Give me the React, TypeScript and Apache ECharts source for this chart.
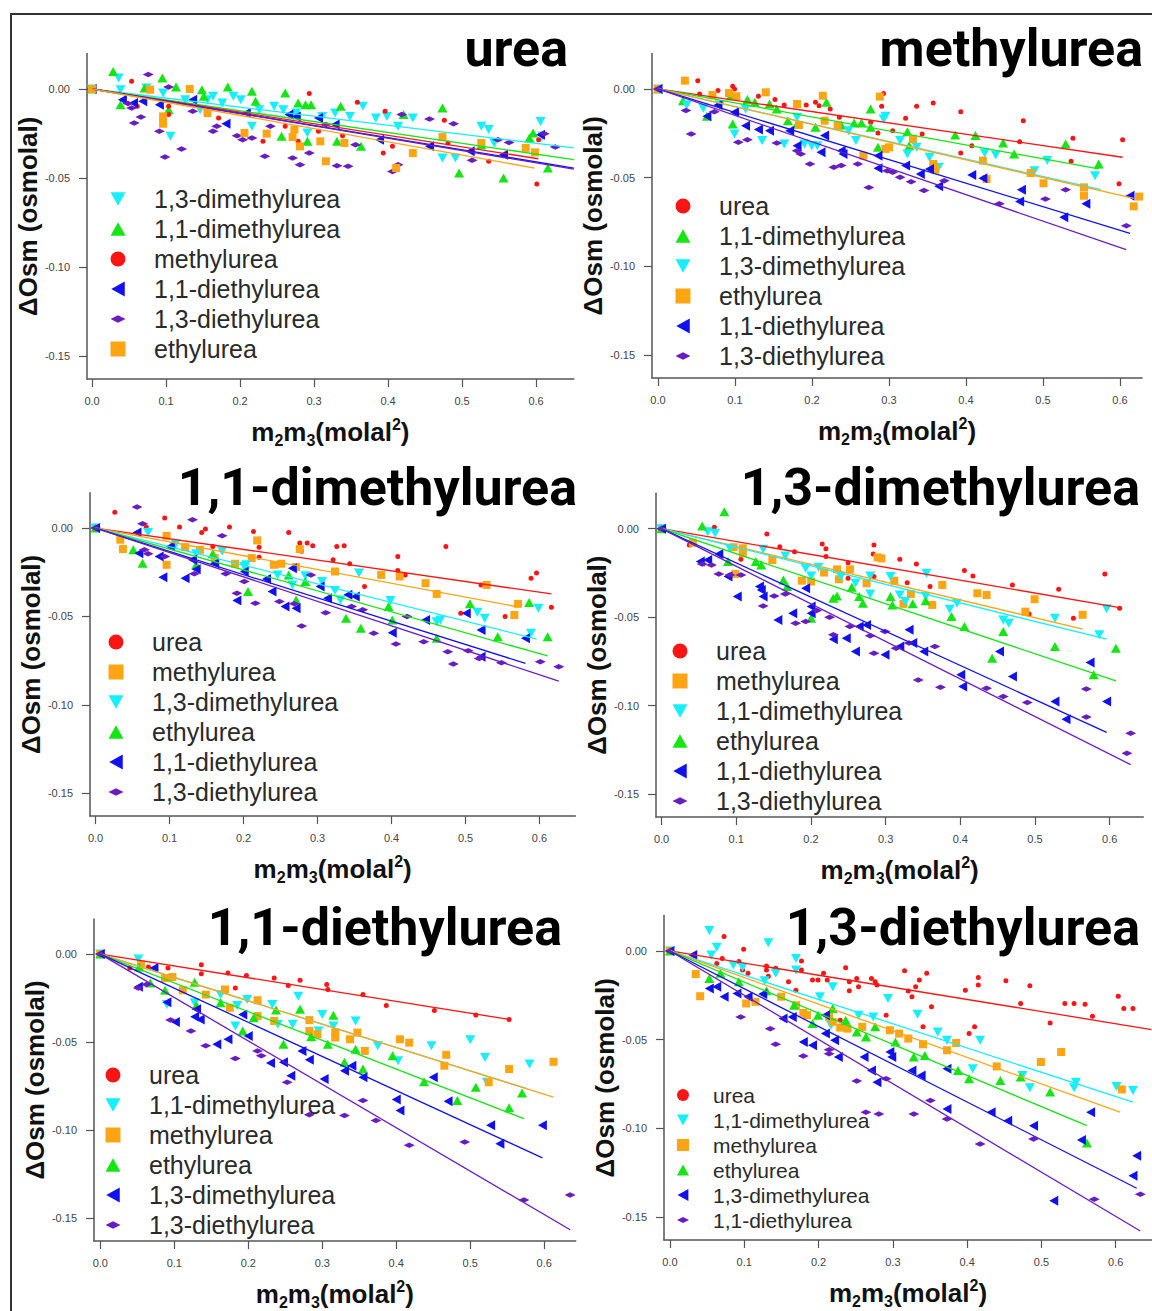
import React, { useEffect, useRef } from 'react';
import * as echarts from 'echarts';

// ---------------- data ----------------
const TITLES = ['urea', 'methylurea', '1,1-dimethylurea', '1,3-dimethylurea', '1,1-diethylurea', '1,3-diethylurea'];
const X_TICKS = [0, 0.1, 0.2, 0.3, 0.4, 0.5, 0.6];
const Y_TICKS = [0, -0.05, -0.1, -0.15];

// panel 1: urea
const P1_NAMES = ['1,3-dimethylurea', '1,1-dimethylurea', 'methylurea', '1,1-diethylurea', '1,3-diethylurea', 'ethylurea'];
const P1_A = [[0,0],[0.036,0.0062],[0.0385,-0.0004],[0.0735,0.0006],[0.096,-0.0022],[0.106,-0.0266],[0.126,-0.006],[0.146,-0.0116],[0.156,-0.006],[0.1635,-0.0041],[0.176,-0.0079],[0.191,-0.0041],[0.201,-0.006],[0.216,-0.021],[0.226,-0.0116],[0.246,-0.0097],[0.2585,-0.0116],[0.276,-0.0135],[0.291,-0.0247],[0.311,-0.0154],[0.3285,-0.0135],[0.3485,-0.0154],[0.366,-0.0097],[0.3835,-0.0163],[0.3985,-0.0154],[0.4135,-0.021],[0.4335,-0.0163],[0.4735,-0.0388],[0.491,-0.0388],[0.526,-0.021],[0.536,-0.0228],[0.5435,-0.0303],[0.606,-0.0182],[0.6085,-0.0266]];
const P1_B = [[0,0],[0.0285,0.0099],[0.0385,-0.0088],[0.071,0.0006],[0.095,0.0062],[0.1135,0.0011],[0.1035,-0.0116],[0.1485,-0.0004],[0.151,-0.0041],[0.1835,0.0011],[0.216,-0.0013],[0.221,-0.0069],[0.261,-0.0022],[0.256,-0.0266],[0.2785,-0.0079],[0.2885,-0.0088],[0.296,-0.0088],[0.291,-0.0294],[0.331,-0.0294],[0.336,-0.0097],[0.3635,-0.0322],[0.421,-0.0144],[0.4735,-0.0107],[0.496,-0.0472],[0.526,-0.0313],[0.556,-0.05],[0.591,-0.0275],[0.596,-0.0247],[0.616,-0.0444]];
const P1_C = [[0,0],[0.0535,0.0043],[0.061,-0.0097],[0.1035,-0.0097],[0.1035,-0.0144],[0.171,-0.0163],[0.231,-0.0294],[0.261,-0.021],[0.2785,-0.0294],[0.2935,-0.0026],[0.306,-0.0238],[0.3385,-0.0262],[0.3585,-0.0075],[0.396,-0.0125],[0.3935,-0.036],[0.406,-0.0322],[0.476,-0.0176],[0.481,-0.0303],[0.536,-0.0406],[0.601,-0.0534],[0.6035,-0.0285]];
const P1_D = [[0,0],[0.041,-0.006],[0.056,-0.0079],[0.0685,-0.0069],[0.091,-0.0088],[0.136,-0.006],[0.181,-0.0195],[0.2085,-0.0135],[0.266,-0.0144],[0.276,-0.0154],[0.306,-0.0163],[0.3285,-0.02],[0.3885,-0.0285],[0.456,-0.0322],[0.511,-0.035],[0.556,-0.0369],[0.606,-0.0257]];
const P1_E = [[0,0],[0.0485,-0.0082],[0.0535,-0.0107],[0.057,-0.0191],[0.066,-0.0157],[0.076,0.0081],[0.091,-0.0238],[0.0985,-0.0382],[0.1035,0.0011],[0.121,-0.0337],[0.136,-0.0125],[0.1635,-0.0238],[0.1685,-0.021],[0.196,-0.0262],[0.2035,-0.0285],[0.216,-0.0275],[0.2335,-0.0378],[0.241,-0.021],[0.271,-0.0388],[0.281,-0.0425],[0.2935,-0.036],[0.316,-0.02],[0.331,-0.0431],[0.346,-0.0434],[0.356,-0.0313],[0.406,-0.0463],[0.4135,-0.0425],[0.4185,-0.0144],[0.456,-0.0169],[0.4885,-0.0195],[0.5135,-0.0401],[0.5485,-0.0285],[0.5635,-0.03],[0.611,-0.0251],[0.626,-0.0326]];
const P1_F = [[0,0],[0.0785,-0.0004],[0.096,-0.0195],[0.096,-0.0154],[0.132,0],[0.156,-0.0135],[0.206,-0.0247],[0.236,-0.0251],[0.271,-0.027],[0.2735,-0.0228],[0.281,-0.0322],[0.3085,-0.0294],[0.316,-0.0406],[0.341,-0.0303],[0.411,-0.0444],[0.4335,-0.036],[0.4735,-0.027],[0.526,-0.0303],[0.586,-0.0331],[0.5985,-0.0356]];
const P1_FIT = [[0.651,-0.0331],[0.651,-0.0397],[0.603,-0.0392],[0.651,-0.0444],[0.651,-0.045],[0.598,-0.0444]];

// panel 2: methylurea
const P2_NAMES = ['urea', '1,1-dimethylurea', '1,3-dimethylurea', 'ethylurea', '1,1-diethylurea', '1,3-diethylurea'];
const P2_A = [[0,0],[0.0516,0.0047],[0.054,-0.0028],[0.0779,-0.0009],[0.097,0.0015],[0.0994,0],[0.1304,-0.0041],[0.1519,-0.006],[0.1639,-0.009],[0.1925,-0.009],[0.2045,-0.0075],[0.2092,-0.0094],[0.2236,-0.0113],[0.2355,-0.016],[0.2762,-0.0188],[0.2857,-0.0248],[0.2905,-0.0098],[0.2929,-0.0026],[0.3048,-0.0235],[0.3216,-0.0165],[0.3359,-0.0098],[0.343,-0.0254],[0.3574,-0.0079],[0.3932,-0.0128],[0.3932,-0.0361],[0.4075,-0.032],[0.4697,-0.0297],[0.4744,-0.0179],[0.5365,-0.0408],[0.5389,-0.0278],[0.5987,-0.0534],[0.6034,-0.0286]];
const P2_B = [[0,0],[0.0325,-0.0066],[0.0635,-0.0154],[0.0946,-0.0038],[0.097,-0.0197],[0.1161,-0.006],[0.1257,-0.0075],[0.1448,-0.0085],[0.1543,-0.0113],[0.1687,-0.0179],[0.1806,-0.0197],[0.2045,-0.0216],[0.2188,-0.0075],[0.2379,-0.0203],[0.2547,-0.0192],[0.2642,-0.0192],[0.2762,-0.0113],[0.2762,-0.0216],[0.2857,-0.0329],[0.3239,-0.0241],[0.3263,-0.032],[0.386,-0.0259],[0.4123,-0.0263],[0.4482,-0.0305],[0.4625,-0.0367],[0.5294,-0.031],[0.5724,-0.0423]];
const P2_C = [[0,0],[0.0373,-0.009],[0.0588,-0.0109],[0.0803,-0.009],[0.0994,-0.0254],[0.1137,-0.0113],[0.1352,-0.0291],[0.1639,-0.031],[0.1806,-0.016],[0.1902,-0.031],[0.1997,-0.032],[0.2069,-0.032],[0.2475,-0.0235],[0.257,-0.0291],[0.2953,-0.0154],[0.2929,-0.0169],[0.3144,-0.0291],[0.3239,-0.0367],[0.3359,-0.0329],[0.3526,-0.0385],[0.3645,-0.0442],[0.4243,-0.0361],[0.4386,-0.0372],[0.4888,-0.0461],[0.5055,-0.0404],[0.5676,-0.0489]];
const P2_D = [[0,0],[0.0349,0.0047],[0.0707,-0.0034],[0.0922,-0.0023],[0.1018,-0.0041],[0.14,-0.0019],[0.1806,-0.0085],[0.183,-0.0203],[0.214,-0.0038],[0.2164,-0.0179],[0.2332,-0.0207],[0.2666,-0.0376],[0.2881,-0.0043],[0.2953,-0.0338],[0.3,-0.0329],[0.3311,-0.0282],[0.3574,-0.0423],[0.3598,-0.0455],[0.4219,-0.0404],[0.4267,-0.0508],[0.484,-0.0474],[0.5007,-0.0532],[0.5533,-0.0555],[0.5533,-0.0602],[0.6178,-0.0662],[0.6249,-0.0607]];
const P2_E = [[0,0],[0.0635,-0.0154],[0.0779,-0.009],[0.0994,-0.0132],[0.1137,-0.0207],[0.1304,-0.0229],[0.1448,-0.0235],[0.171,-0.0235],[0.1806,-0.032],[0.2117,-0.0357],[0.2164,-0.0263],[0.2379,-0.0348],[0.2403,-0.0367],[0.2857,-0.0376],[0.2857,-0.0447],[0.3216,-0.0432],[0.3407,-0.0479],[0.3526,-0.0451],[0.3645,-0.0549],[0.4075,-0.0485],[0.4219,-0.0504],[0.472,-0.0568],[0.4697,-0.0635],[0.527,-0.0724],[0.5557,-0.0648],[0.613,-0.0602]];
const P2_F = [[0,0],[0.0363,-0.0122],[0.043,-0.0254],[0.0731,-0.0128],[0.1042,-0.0301],[0.1161,-0.0286],[0.1543,-0.0305],[0.1806,-0.0348],[0.1854,-0.0367],[0.1973,-0.0423],[0.2284,-0.0442],[0.2379,-0.0432],[0.2594,-0.0423],[0.2738,-0.0555],[0.2977,-0.0461],[0.3048,-0.047],[0.3144,-0.0498],[0.3287,-0.0523],[0.3454,-0.0573],[0.3717,-0.0517],[0.4434,-0.0648],[0.5031,-0.062],[0.5294,-0.0568],[0.6082,-0.0771]];
const P2_FIT = [[0.6034,-0.0385],[0.5724,-0.0451],[0.575,-0.0568],[0.618,-0.0617],[0.613,-0.0814],[0.608,-0.0906]];

// panel 3: 1,1-dimethylurea
const P3_NAMES = ['urea', 'methylurea', '1,3-dimethylurea', 'ethylurea', '1,1-diethylurea', '1,3-diethylurea'];
const P3_A = [[0,0],[0.026,0.0089],[0.0685,0.0006],[0.0935,0.0057],[0.1135,0.0006],[0.1435,-0.0025],[0.1485,-0.0006],[0.1585,-0.0104],[0.181,0.0006],[0.2135,-0.0019],[0.221,-0.0108],[0.221,-0.0165],[0.261,-0.0025],[0.276,-0.0085],[0.2785,-0.0132],[0.286,-0.0085],[0.2935,-0.01],[0.321,-0.018],[0.326,-0.0104],[0.336,-0.01],[0.3435,-0.0202],[0.3635,-0.0331],[0.4085,-0.024],[0.4085,-0.0161],[0.4185,-0.0265],[0.4735,-0.0104],[0.4935,-0.0482],[0.521,-0.0322],[0.5535,-0.0501],[0.5885,-0.0284],[0.596,-0.0255],[0.616,-0.0448]];
const P3_B = [[0,0],[0.0335,-0.0066],[0.037,-0.0119],[0.096,-0.0044],[0.096,-0.0208],[0.121,-0.0108],[0.141,-0.0123],[0.161,-0.017],[0.1885,-0.0202],[0.211,-0.017],[0.2185,-0.007],[0.241,-0.0208],[0.251,-0.0202],[0.271,-0.0221],[0.276,-0.0119],[0.3235,-0.0246],[0.386,-0.0265],[0.411,-0.0274],[0.446,-0.0312],[0.461,-0.0373],[0.5285,-0.0322],[0.566,-0.0492],[0.571,-0.0429]];
const P3_C = [[0,0],[0.071,-0.0025],[0.1085,-0.0089],[0.136,-0.0146],[0.171,-0.0132],[0.201,-0.0218],[0.2035,-0.0208],[0.246,-0.0265],[0.266,-0.0322],[0.2835,-0.027],[0.306,-0.0303],[0.3235,-0.0354],[0.331,-0.0407],[0.356,-0.0255],[0.3985,-0.041],[0.461,-0.053],[0.466,-0.052],[0.526,-0.0511],[0.516,-0.0477],[0.5885,-0.0596],[0.5985,-0.0454]];
const P3_D = [[0,0],[0.051,-0.0123],[0.0635,-0.0199],[0.1035,-0.0095],[0.136,-0.0208],[0.1585,-0.0146],[0.206,-0.0359],[0.261,-0.0265],[0.271,-0.0407],[0.2835,-0.0303],[0.3385,-0.0511],[0.3585,-0.0567],[0.396,-0.0444],[0.401,-0.052],[0.461,-0.0624],[0.506,-0.0429],[0.5435,-0.0615],[0.586,-0.0422],[0.611,-0.0615]];
const P3_E = [[0,0],[0.056,-0.0025],[0.0585,-0.0142],[0.086,-0.0161],[0.091,-0.0278],[0.101,-0.0104],[0.121,-0.0284],[0.131,-0.018],[0.136,-0.0233],[0.161,-0.0199],[0.191,-0.041],[0.201,-0.0246],[0.231,-0.0289],[0.2385,-0.0359],[0.256,-0.0444],[0.271,-0.0454],[0.266,-0.0227],[0.3035,-0.0331],[0.3135,-0.0397],[0.341,-0.0378],[0.351,-0.0388],[0.401,-0.0592],[0.446,-0.052],[0.501,-0.0482],[0.521,-0.0577],[0.521,-0.0728],[0.581,-0.0624]];
const P3_F = [[0,0],[0.056,0.0119],[0.0635,0.0025],[0.066,-0.0123],[0.071,-0.0146],[0.0935,-0.0161],[0.131,0.0047],[0.1335,-0.0259],[0.171,-0.0044],[0.176,-0.0259],[0.191,-0.0369],[0.201,-0.0303],[0.216,-0.0426],[0.2485,-0.0416],[0.2685,-0.0429],[0.2785,-0.0554],[0.291,-0.0265],[0.311,-0.0479],[0.346,-0.0444],[0.361,-0.0463],[0.376,-0.0596],[0.406,-0.0656],[0.421,-0.0501],[0.4435,-0.0643],[0.476,-0.07],[0.4835,-0.077],[0.5035,-0.0694],[0.5185,-0.0738],[0.5485,-0.0762],[0.601,-0.0757],[0.626,-0.0785]];
const P3_FIT = [[0.616,-0.0373],[0.5685,-0.0444],[0.596,-0.0628],[0.611,-0.0724],[0.581,-0.0766],[0.626,-0.0866]];

// panel 4: 1,3-dimethylurea
const P4_NAMES = ['urea', 'methylurea', '1,1-dimethylurea', 'ethylurea', '1,1-diethylurea', '1,3-diethylurea'];
const P4_A = [[0,0],[0.0371,-0.0092],[0.0707,0.0008],[0.1063,-0.0173],[0.141,-0.003],[0.1583,-0.0102],[0.178,-0.013],[0.2151,-0.0087],[0.2201,-0.0113],[0.2201,-0.0158],[0.2498,-0.0192],[0.2498,-0.028],[0.2844,-0.0092],[0.2834,-0.0143],[0.2844,-0.0271],[0.319,-0.0173],[0.3412,-0.02],[0.3289,-0.0305],[0.3595,-0.0327],[0.4055,-0.0237],[0.4169,-0.0267],[0.4698,-0.0318],[0.4921,-0.0482],[0.5317,-0.0343],[0.5514,-0.0506],[0.5935,-0.0256],[0.6133,-0.045]];
const P4_B = [[0,0],[0.042,-0.0079],[0.0964,-0.0105],[0.0989,-0.0256],[0.1088,-0.0111],[0.1088,-0.0139],[0.1484,-0.0177],[0.1879,-0.0294],[0.2003,-0.0299],[0.2176,-0.0248],[0.2349,-0.023],[0.2374,-0.0286],[0.2522,-0.023],[0.2745,-0.0309],[0.2893,-0.0162],[0.2943,-0.0168],[0.3116,-0.0294],[0.3239,-0.0425],[0.3338,-0.0369],[0.3625,-0.0431],[0.3759,-0.0318],[0.4228,-0.0365],[0.4352,-0.0375],[0.4995,-0.0399],[0.4871,-0.0469],[0.5638,-0.0487]];
const P4_C = [[0,0],[0.0618,-0.0017],[0.0717,-0.0026],[0.0915,-0.0111],[0.136,-0.0117],[0.1657,-0.0154],[0.1929,-0.0224],[0.2003,-0.0267],[0.2102,-0.0218],[0.2399,-0.0271],[0.2596,-0.0309],[0.2794,-0.0267],[0.2794,-0.0369],[0.3066,-0.0271],[0.319,-0.0375],[0.3264,-0.0412],[0.3536,-0.0384],[0.3546,-0.0252],[0.3956,-0.0422],[0.3858,-0.0455],[0.4575,-0.0516],[0.4649,-0.0535],[0.5267,-0.0506],[0.5861,-0.06],[0.5959,-0.0452]];
const P4_D = [[0,0],[0.0544,0.0015],[0.0841,0.0096],[0.089,-0.0186],[0.1261,-0.0186],[0.1335,-0.0205],[0.1632,-0.029],[0.1682,-0.0327],[0.2003,-0.0506],[0.23,-0.0393],[0.2349,-0.038],[0.2547,-0.0331],[0.2646,-0.0384],[0.2695,-0.0422],[0.3066,-0.0384],[0.3091,-0.0431],[0.3363,-0.0425],[0.3536,-0.0407],[0.3882,-0.0497],[0.4055,-0.0553],[0.4426,-0.0732],[0.4575,-0.0582],[0.5267,-0.0666],[0.5786,-0.0826],[0.6083,-0.0676]];
const P4_E = [[0,0],[0.0519,-0.0186],[0.0618,-0.0177],[0.0767,-0.0143],[0.089,-0.0271],[0.1014,-0.0384],[0.1311,-0.0327],[0.1335,-0.0346],[0.136,-0.0384],[0.1558,-0.0516],[0.1756,-0.0478],[0.1929,-0.0337],[0.2003,-0.044],[0.2003,-0.0478],[0.23,-0.0625],[0.2473,-0.0619],[0.2596,-0.0695],[0.2646,-0.0553],[0.2745,-0.0544],[0.2992,-0.0713],[0.319,-0.0666],[0.3314,-0.0572],[0.3363,-0.0647],[0.3511,-0.0695],[0.4006,-0.0826],[0.4031,-0.0892],[0.4525,-0.0695],[0.4698,-0.0836],[0.5267,-0.0977],[0.5415,-0.1077],[0.5737,-0.0757],[0.5959,-0.0977]];
const P4_F = [[0,0],[0.0544,-0.02],[0.0668,-0.0205],[0.0767,-0.0256],[0.0915,-0.0262],[0.1063,-0.0262],[0.136,-0.0437],[0.1508,-0.038],[0.1657,-0.0369],[0.1795,-0.0535],[0.1929,-0.0525],[0.2077,-0.0463],[0.225,-0.0501],[0.23,-0.06],[0.2522,-0.0553],[0.2794,-0.0606],[0.2844,-0.0704],[0.2992,-0.0582],[0.314,-0.0676],[0.3314,-0.0647],[0.3437,-0.0855],[0.366,-0.0666],[0.3734,-0.0896],[0.4352,-0.0902],[0.4575,-0.0949],[0.4896,-0.0982],[0.5687,-0.1065],[0.5687,-0.0907],[0.6231,-0.1269],[0.6281,-0.1156]];
const P4_FIT = [[0.6133,-0.0446],[0.5638,-0.0568],[0.5959,-0.0625],[0.6083,-0.086],[0.5959,-0.1152],[0.6281,-0.1334]];

// panel 5: 1,1-diethylurea
const P5_NAMES = ['urea', '1,1-dimethylurea', 'methylurea', 'ethylurea', '1,3-dimethylurea', '1,3-diethylurea'];
const P5_A = [[0,0],[0.04,-0.0079],[0.065,-0.0073],[0.0915,-0.0079],[0.1365,-0.006],[0.1365,-0.0111],[0.1725,-0.0107],[0.1825,-0.0192],[0.1975,-0.0122],[0.235,-0.0136],[0.254,-0.0179],[0.27,-0.0149],[0.306,-0.0173],[0.3075,-0.0201],[0.355,-0.023],[0.3865,-0.0292],[0.4515,-0.032],[0.5075,-0.0346],[0.5525,-0.0371]];
const P5_B = [[0,0],[0.0515,-0.0028],[0.09,-0.0286],[0.1275,-0.0277],[0.1625,-0.023],[0.1825,-0.0408],[0.185,-0.0292],[0.1985,-0.0258],[0.2325,-0.0286],[0.24,-0.0399],[0.26,-0.0399],[0.2675,-0.0239],[0.295,-0.0437],[0.3,-0.0343],[0.315,-0.0408],[0.345,-0.038],[0.375,-0.0521],[0.4025,-0.0606],[0.4475,-0.0521],[0.5,-0.0487],[0.52,-0.0587],[0.5225,-0.0728],[0.58,-0.0625]];
const P5_C = [[0,0],[0.055,-0.006],[0.0875,-0.0136],[0.0975,-0.013],[0.1115,-0.0205],[0.1425,-0.023],[0.1685,-0.0201],[0.175,-0.0305],[0.2125,-0.0262],[0.2125,-0.0352],[0.235,-0.038],[0.2825,-0.0375],[0.2825,-0.0437],[0.2935,-0.0455],[0.3175,-0.0446],[0.3175,-0.0474],[0.3375,-0.0484],[0.3475,-0.0446],[0.3575,-0.055],[0.405,-0.0484],[0.4175,-0.0503],[0.4675,-0.0572],[0.465,-0.0634],[0.525,-0.0728],[0.5525,-0.0653],[0.6125,-0.0612]];
const P5_D = [[0,0],[0.0525,-0.0073],[0.0675,-0.0164],[0.0875,-0.0205],[0.1275,-0.016],[0.13,-0.0292],[0.1625,-0.0277],[0.1925,-0.0437],[0.2075,-0.0361],[0.2375,-0.0318],[0.2475,-0.0512],[0.27,-0.0314],[0.285,-0.0469],[0.315,-0.0348],[0.3075,-0.0512],[0.33,-0.0615],[0.345,-0.054],[0.355,-0.0653],[0.395,-0.0578],[0.4375,-0.0725],[0.4825,-0.0832],[0.5075,-0.0757],[0.5525,-0.0873],[0.57,-0.0789]];
const P5_E = [[0,0],[0.0515,-0.0186],[0.0725,-0.0079],[0.09,-0.0273],[0.1015,-0.0386],[0.1275,-0.0356],[0.13,-0.0314],[0.135,-0.0371],[0.1575,-0.0512],[0.1725,-0.0484],[0.1925,-0.0343],[0.2,-0.0465],[0.23,-0.0619],[0.2475,-0.0615],[0.2575,-0.0691],[0.2725,-0.055],[0.2825,-0.06],[0.3025,-0.071],[0.33,-0.0663],[0.34,-0.0634],[0.355,-0.07],[0.4,-0.0826],[0.405,-0.0888],[0.45,-0.07],[0.47,-0.0836],[0.5275,-0.0973],[0.54,-0.1077],[0.5975,-0.0973]];
const P5_F = [[0,0],[0.0515,-0.0192],[0.0625,-0.0173],[0.095,-0.0375],[0.1225,-0.0437],[0.1425,-0.0521],[0.1825,-0.0593],[0.2125,-0.055],[0.2175,-0.0578],[0.2525,-0.0728],[0.2825,-0.0913],[0.33,-0.0917],[0.355,-0.0832],[0.3725,-0.0945],[0.4175,-0.1086],[0.4925,-0.1067],[0.5725,-0.1397],[0.635,-0.1368]];
const P5_FIT = [[0.5525,-0.0371],[0.5775,-0.0766],[0.6125,-0.0813],[0.5725,-0.0935],[0.5975,-0.1158],[0.635,-0.1566]];

// panel 6: 1,3-diethylurea
const P6_NAMES = ['urea', '1,1-dimethylurea', 'methylurea', 'ethylurea', '1,3-dimethylurea', '1,1-diethylurea'];
const P6_A = [[0,0],[0.0729,0.0081],[0.0704,-0.0042],[0.063,-0.007],[0.0927,-0.006],[0.0992,0.0009],[0.0977,-0.0108],[0.1051,-0.0126],[0.1299,-0.0085],[0.1299,-0.0108],[0.1324,-0.0142],[0.1423,-0.0098],[0.1596,-0.0174],[0.1696,-0.0221],[0.177,-0.0057],[0.177,-0.0108],[0.1919,-0.0164],[0.1993,-0.0164],[0.2067,-0.0126],[0.2117,-0.0164],[0.2291,-0.0391],[0.2365,-0.0094],[0.2414,-0.0174],[0.2414,-0.0225],[0.2514,-0.0155],[0.2538,-0.0202],[0.2712,-0.0155],[0.2762,-0.0174],[0.2786,-0.0192],[0.291,-0.0362],[0.3158,-0.0111],[0.3208,-0.0226],[0.3257,-0.0258],[0.3307,-0.0202],[0.3356,-0.0164],[0.3406,-0.0428],[0.3456,-0.0126],[0.352,-0.0315],[0.3976,-0.0221],[0.4026,-0.0466],[0.41,-0.0428],[0.415,-0.0149],[0.415,-0.0192],[0.4522,-0.0168],[0.472,-0.0296],[0.4844,-0.0196],[0.5117,-0.0406],[0.5315,-0.0296],[0.5439,-0.0296],[0.5587,-0.03],[0.5687,-0.0368],[0.6034,-0.0255],[0.6108,-0.0325],[0.6232,-0.0325]];
const P6_B = [[0,0],[0.053,0.0115],[0.0555,-0.0023],[0.063,0.0021],[0.0853,-0.0079],[0.0977,-0.0092],[0.1324,0.0047],[0.1274,-0.0168],[0.1423,-0.0126],[0.1696,-0.0042],[0.1696,-0.0108],[0.2018,-0.0258],[0.2167,-0.0419],[0.2191,-0.0202],[0.2538,-0.0362],[0.2737,-0.0372],[0.2935,-0.0268],[0.3332,-0.0357],[0.3604,-0.0457],[0.3728,-0.0504],[0.4175,-0.0504],[0.4075,-0.0664],[0.4745,-0.0702],[0.4844,-0.0772],[0.5464,-0.074],[0.5439,-0.0772],[0.6009,-0.0764],[0.6232,-0.0787]];
const P6_C = [[0,0],[0.0347,-0.013],[0.0407,-0.0255],[0.1026,-0.0296],[0.115,-0.0287],[0.1497,-0.0258],[0.1696,-0.0306],[0.1795,-0.0349],[0.1844,-0.0362],[0.2142,-0.0372],[0.2191,-0.04],[0.2291,-0.0432],[0.239,-0.0438],[0.2588,-0.0428],[0.296,-0.0447],[0.3084,-0.0466],[0.3208,-0.0494],[0.3406,-0.0526],[0.3852,-0.0519],[0.3728,-0.056],[0.4398,-0.0651],[0.4993,-0.0626],[0.5265,-0.057],[0.6083,-0.0781]];
const P6_D = [[0,0],[0.053,-0.0155],[0.0679,-0.0126],[0.0927,-0.0174],[0.1299,-0.0225],[0.1671,-0.0306],[0.1919,-0.0409],[0.1993,-0.0362],[0.2191,-0.0325],[0.2365,-0.0391],[0.2514,-0.0457],[0.2638,-0.0485],[0.2762,-0.0428],[0.3034,-0.0513],[0.3282,-0.0598],[0.3431,-0.0589],[0.3877,-0.0674],[0.4026,-0.0721],[0.4447,-0.073],[0.472,-0.0711],[0.5117,-0.0796],[0.5612,-0.1083]];
const P6_E = [[0,0],[0.0307,-0.0023],[0.053,-0.0211],[0.063,-0.0202],[0.0729,-0.0258],[0.0902,-0.024],[0.1051,-0.0258],[0.1249,-0.0243],[0.1522,-0.0381],[0.1646,-0.0372],[0.1795,-0.0513],[0.1919,-0.0532],[0.2092,-0.0362],[0.2092,-0.0466],[0.2216,-0.0504],[0.2266,-0.0598],[0.2613,-0.0598],[0.2712,-0.0674],[0.2786,-0.074],[0.296,-0.057],[0.2985,-0.0598],[0.3257,-0.0674],[0.3381,-0.0702],[0.3728,-0.0664],[0.3728,-0.0891],[0.4323,-0.0909],[0.4546,-0.0957],[0.4893,-0.0985],[0.5166,-0.1409],[0.5538,-0.1066],[0.5662,-0.0909],[0.6282,-0.1155],[0.6232,-0.1268]];
const P6_F = [[0,0],[0.0952,-0.0372],[0.1349,-0.0438],[0.1423,-0.0526],[0.1795,-0.0592],[0.2142,-0.0557],[0.2142,-0.0579],[0.2514,-0.0734],[0.2638,-0.0909],[0.2811,-0.0919],[0.291,-0.0721],[0.3282,-0.0919],[0.3505,-0.0843],[0.3728,-0.0947],[0.4175,-0.1089],[0.4893,-0.106],[0.5711,-0.14],[0.6331,-0.1372]];
const P6_FIT = [[0.648,-0.0443],[0.6232,-0.0853],[0.6059,-0.0909],[0.5612,-0.0985],[0.6282,-0.1338],[0.6331,-0.1579]];

// ---------------- styles & layout ----------------
const COLORS: Record<string, string> = {
  red: '#ff1414', green: '#14e614', cyan: '#14f0ff', orange: '#ffa514', blue: '#1010f0', purple: '#6a1cc4',
};
const SYM: Record<string, string> = {
  circle: 'path://M0,5a5,5 0 1,0 10,0a5,5 0 1,0 -10,0z',
  up: 'path://M5,0L10,9L0,9Z',
  down: 'path://M0,0L10,0L5,9Z',
  left: 'path://M0,5L9,0L9,10Z',
  square: 'path://M0,0L10,0L10,10L0,10Z',
  diamond: 'path://M0,4L8,0L16,4L8,8Z',
};
const SIZE: Record<string, number[]> = {
  circle: [5, 5], up: [10, 9], down: [10, 9], left: [9, 10], square: [8, 8], diamond: [11, 5.5],
};

const PANELS = [
  { names: P1_NAMES, pts: [P1_A, P1_B, P1_C, P1_D, P1_E, P1_F], fit: P1_FIT,
    look: [['cyan','down'],['green','up'],['red','circle'],['blue','left'],['purple','diamond'],['orange','square']],
    grid: { left: 87, top: 53.4, width: 486.8, height: 325.7 }, x: [-0.0068, 0.651],
    title: { right: 584, top: 22 }, legend: { cx: 118, y0: 199, step: 30, font: 25, icon: 15, gap: 36 } },
  { names: P2_NAMES, pts: [P2_A, P2_B, P2_C, P2_D, P2_E, P2_F], fit: P2_FIT,
    look: [['red','circle'],['green','up'],['cyan','down'],['orange','square'],['blue','left'],['purple','diamond']],
    grid: { left: 652, top: 53.5, width: 490, height: 324.5 }, x: [-0.0078, 0.6286],
    title: { right: 9, top: 22 }, legend: { cx: 683, y0: 206, step: 30, font: 25, icon: 15, gap: 36 } },
  { names: P3_NAMES, pts: [P3_A, P3_B, P3_C, P3_D, P3_E, P3_F], fit: P3_FIT,
    look: [['red','circle'],['orange','square'],['cyan','down'],['green','up'],['blue','left'],['purple','diamond']],
    grid: { left: 90, top: 492.7, width: 485.4, height: 323.4 }, x: [-0.0075, 0.6485],
    title: { right: 575, top: 461 }, legend: { cx: 116, y0: 642, step: 30, font: 25, icon: 15, gap: 36 } },
  { names: P4_NAMES, pts: [P4_A, P4_B, P4_C, P4_D, P4_E, P4_F], fit: P4_FIT,
    look: [['red','circle'],['orange','square'],['cyan','down'],['green','up'],['blue','left'],['purple','diamond']],
    grid: { left: 656, top: 493.3, width: 487.3, height: 323.7 }, x: [-0.0074, 0.645],
    title: { right: 12, top: 461 }, legend: { cx: 680, y0: 651, step: 30, font: 25, icon: 15, gap: 36 } },
  { names: P5_NAMES, pts: [P5_A, P5_B, P5_C, P5_D, P5_E, P5_F], fit: P5_FIT,
    look: [['red','circle'],['cyan','down'],['orange','square'],['green','up'],['blue','left'],['purple','diamond']],
    grid: { left: 94, top: 918.9, width: 481.7, height: 324.1 }, x: [-0.0085, 0.6425],
    title: { right: 590, top: 901 }, legend: { cx: 113, y0: 1075, step: 30, font: 25, icon: 15, gap: 36 } },
  { names: P6_NAMES, pts: [P6_A, P6_B, P6_C, P6_D, P6_E, P6_F], fit: P6_FIT,
    look: [['red','circle'],['cyan','down'],['orange','square'],['green','up'],['blue','left'],['purple','diamond']],
    grid: { left: 664, top: 915.5, width: 490, height: 324.5 }, x: [-0.008, 0.6488],
    title: { right: 12, top: 901 }, legend: { cx: 683, y0: 1095, step: 25, font: 21, icon: 12, gap: 30 } },
];

const FONT = '"Liberation Sans", Arial, sans-serif';
const AXIS_COLOR = '#555';

function buildOption() {
  const series: any[] = [];
  PANELS.forEach((p, i) => {
    p.names.forEach((name, k) => {
      const [c, s] = p.look[k];
      series.push({
        type: 'scatter', name: `${i}|${name}`, xAxisIndex: i, yAxisIndex: i,
        data: p.pts[k], symbol: SYM[s], symbolSize: SIZE[s],
        itemStyle: { color: COLORS[c], opacity: 1 }, z: 2, silent: true,
      });
    });
    p.names.forEach((name, k) => {
      const [c] = p.look[k];
      series.push({
        type: 'line', name: `${i}|${name}|fit`, xAxisIndex: i, yAxisIndex: i,
        data: [[0, 0], p.fit[k]], showSymbol: false, symbol: 'none',
        lineStyle: { color: COLORS[c], width: 1.3 }, z: 3, silent: true,
      });
    });
  });

  const rich = {
    a: { fontSize: 26, fontWeight: 'bold', fontFamily: FONT, color: '#111', lineHeight: 32 },
    s: { fontSize: 16, fontWeight: 'bold', fontFamily: FONT, color: '#111', verticalAlign: 'bottom', lineHeight: 16 },
    p: { fontSize: 16, fontWeight: 'bold', fontFamily: FONT, color: '#111', verticalAlign: 'top', lineHeight: 16 },
  };

  return {
    animation: false,
    textStyle: { fontFamily: FONT },
    graphic: [{
      type: 'rect', silent: true, z: 100,
      shape: { x: 11, y: 14, width: 1400, height: 1500 },
      style: { fill: 'none', stroke: '#333', lineWidth: 2 },
    }],
    title: PANELS.map((p, i) => ({
      text: TITLES[i], right: p.title.right, top: p.title.top, padding: 0,
      textStyle: { fontFamily: 'Roboto', fontWeight: 'bold', fontSize: 52, color: '#000' },
    })),
    legend: PANELS.map((p, i) => {
      const L = p.legend;
      const pad = L.gap - (L.icon + 5 - L.icon / 2);
      return {
        orient: 'vertical', left: L.cx - L.icon / 2, top: L.y0 - L.step / 2,
        padding: 0, itemGap: 0, itemWidth: L.icon, itemHeight: L.icon, selectedMode: false,
        symbolKeepAspect: true,
        data: p.names.map((n, k) => ({ name: `${i}|${n}`, icon: SYM[p.look[k][1]], symbolKeepAspect: true })),
        formatter: (n: string) => n.split('|')[1],
        textStyle: { fontSize: L.font, color: '#2a2a2a', fontFamily: FONT, lineHeight: L.step, padding: [0, 0, 0, pad] },
      };
    }),
    grid: PANELS.map((p) => ({ ...p.grid, containLabel: false })),
    xAxis: PANELS.map((p, i) => ({
      type: 'value', gridIndex: i, min: p.x[0], max: p.x[1],
      name: '{a|m}{s|2}{a|m}{s|3}{a|(molal}{p|2}{a|)}', nameLocation: 'middle', nameGap: 37,
      nameTextStyle: { rich },
      axisLine: { show: true, onZero: false, lineStyle: { color: AXIS_COLOR, width: 1.5 } },
      axisTick: { show: true, length: 8, customValues: X_TICKS, lineStyle: { color: AXIS_COLOR, width: 1.2 } },
      axisLabel: { customValues: X_TICKS, formatter: (v: number) => v.toFixed(1), fontSize: 11, color: '#444', margin: 16 },
      splitLine: { show: false },
    })),
    yAxis: PANELS.map((p, i) => ({
      type: 'value', gridIndex: i, min: -0.163, max: 0.02,
      name: 'ΔOsm (osmolal)', nameLocation: 'middle', nameGap: 35,
      nameTextStyle: { fontSize: 26, fontWeight: 'bold', color: '#111', fontFamily: FONT },
      axisLine: { show: true, onZero: false, lineStyle: { color: AXIS_COLOR, width: 1.5 } },
      axisTick: { show: true, length: 8, customValues: Y_TICKS, lineStyle: { color: AXIS_COLOR, width: 1.2 } },
      axisLabel: { customValues: Y_TICKS, formatter: (v: number) => v.toFixed(2), fontSize: 11, color: '#444', margin: 17 },
      splitLine: { show: false },
    })),
    series,
  };
}

export default function App() {
  const ref = useRef<HTMLDivElement>(null);
  useEffect(() => {
    if (!ref.current) return;
    const chart = echarts.init(ref.current, undefined, { renderer: 'svg' });
    chart.setOption(buildOption() as any);
    return () => chart.dispose();
  }, []);
  return (
    <div
      ref={ref}
      style={{ position: 'absolute', left: 0, top: 0, width: 1152, height: 1311, background: '#fff' }}
    />
  );
}
